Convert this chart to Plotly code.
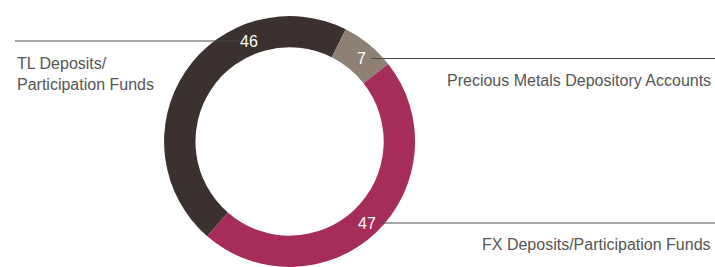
import plotly.graph_objects as go

W, H = 715, 267

categories = ["TL Deposits/<br>Participation Funds",
              "Precious Metals Depository Accounts",
              "FX Deposits/Participation Funds"]
values = [46, 7, 47]
colors = ["#3b312e", "#8e8174", "#a62c5a"]

# label layout (pixels from top-left): name position, anchor, value position, leader line
name_pos = [(15, 74, "left"), (713, 80, "right"), (713, 244, "right")]
value_pos = [(249, 42), (361, 59), (367, 223)]
leader = [(15, 240, 41), (371, 715, 58.5), (379, 715, 223)]

def px(x):
    return x / W

def py(y):
    return 1 - y / H

fig = go.Figure()
fig.add_trace(go.Pie(
    labels=categories,
    values=values,
    marker=dict(colors=colors, line=dict(width=0)),
    hole=0.75,
    sort=False,
    direction="clockwise",
    rotation=-139,
    textinfo="none",
    hoverinfo="label+value",
    showlegend=False,
    domain=dict(x=[0.205, 0.605], y=[0, 251 / 267]),
))

shapes = []
for (x0, x1, y) in leader:
    shapes.append(dict(type="line", xref="paper", yref="paper",
                       x0=px(x0), x1=px(x1), y0=py(y), y1=py(y),
                       line=dict(color="#4a4a4a", width=1.2)))

annotations = []
for cat, (x, y, anchor) in zip(categories, name_pos):
    annotations.append(dict(text=cat, xref="paper", yref="paper",
                            x=px(x), y=py(y), xanchor=anchor, yanchor="middle",
                            align=anchor, showarrow=False,
                            font=dict(family="Liberation Sans, Arial, sans-serif",
                                      size=16, color="#555555")))
for v, (x, y) in zip(values, value_pos):
    annotations.append(dict(text=str(v), xref="paper", yref="paper",
                            x=px(x), y=py(y), xanchor="center", yanchor="middle",
                            showarrow=False,
                            font=dict(family="Liberation Sans, Arial, sans-serif",
                                      size=16, color="#ffffff")))

fig.update_layout(
    width=W, height=H,
    margin=dict(l=0, r=0, t=0, b=0),
    paper_bgcolor="#ffffff",
    plot_bgcolor="#ffffff",
    shapes=shapes,
    annotations=annotations,
)

fig.write_html("out.html", config={"displayModeBar": False})

# remove default page margin so the figure fills the window exactly
with open("out.html", "r", encoding="utf-8") as f:
    html = f.read()
html = html.replace("<head>", "<head><style>html,body{margin:0;padding:0;overflow:hidden;}</style>", 1)
with open("out.html", "w", encoding="utf-8") as f:
    f.write(html)
